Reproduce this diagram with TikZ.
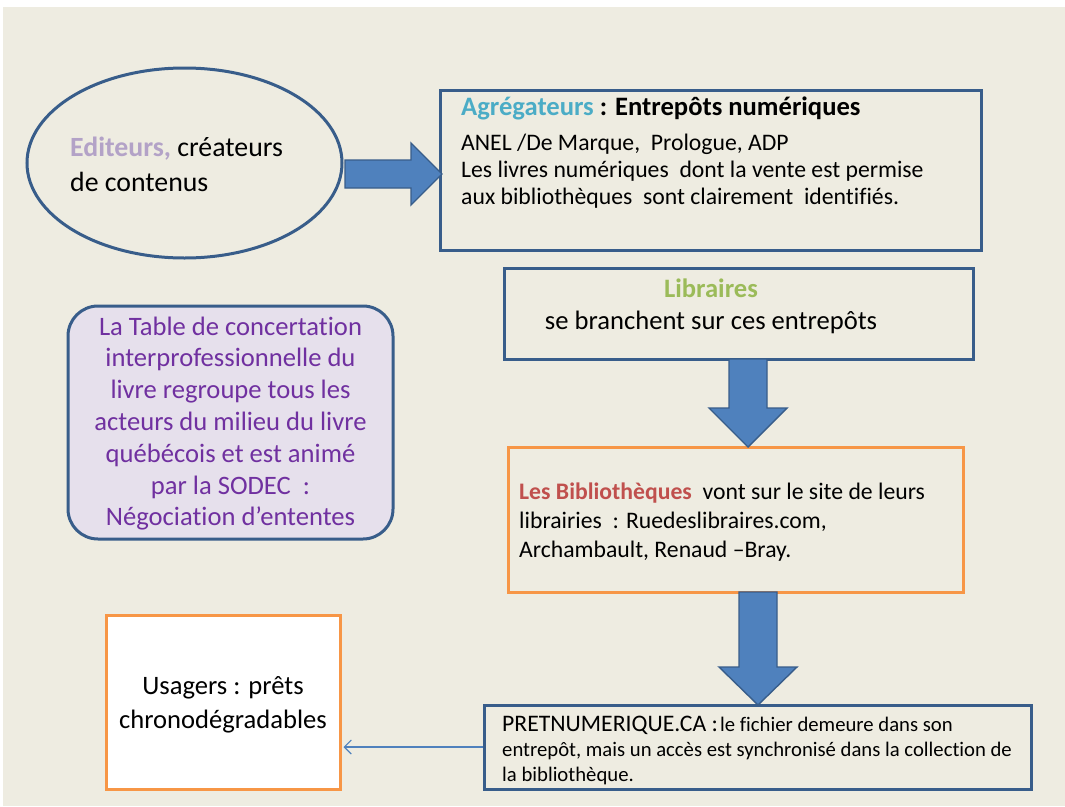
\documentclass[tikz,border=0pt]{standalone}
\usepackage{fontspec}
\setmainfont{Carlito}[Ligatures={NoCommon}]
\usetikzlibrary{arrows.meta,shapes.geometric}
\definecolor{bg}{HTML}{EEECE1}
\definecolor{dblue}{HTML}{385D8A}
\definecolor{ablue}{HTML}{4F81BD}
\definecolor{orng}{HTML}{F79646}
\definecolor{lav}{HTML}{E6E0EC}
\definecolor{purp}{HTML}{7030A0}
\definecolor{editc}{HTML}{B3A2C7}
\definecolor{aggc}{HTML}{4BACC6}
\definecolor{libc}{HTML}{9BBB59}
\definecolor{bibc}{HTML}{C0504D}
\newcommand\fA{\fontsize{26.6}{32}\selectfont}
\newcommand\fE{\fontsize{27.8}{33}\selectfont}
\newcommand\fB{\fontsize{23.7}{28}\selectfont}
\newcommand\fC{\fontsize{20.7}{25}\selectfont}
\tikzset{
  bbox/.style={draw=dblue, line width=3pt, rectangle, inner sep=0pt},
  obox/.style={draw=orng, line width=3pt, rectangle, inner sep=0pt},
  txt/.style={inner sep=0pt, anchor=base west},
  ctxt/.style={inner sep=0pt, anchor=base},
  barrow/.style={fill=ablue, draw=dblue, line width=1.4pt, line join=miter},
  thinarrow/.style={draw=ablue, line width=1.1pt, -{Straight Barb[length=7pt,width=14pt,line width=1.1pt]}, shorten >=2pt}
}
\begin{document}
\begin{tikzpicture}[x=1pt,y=-1pt]
\useasboundingbox (0,0) rectangle (1065,806);
\fill[white] (0,0) rectangle (1065,806);
\fill[bg] (3,7) rectangle (1065,806);

% Editeurs ellipse
\node[ellipse, draw=dblue, line width=3pt, minimum width=315pt, minimum height=190pt, inner sep=0pt] (ell) at (184.5,163) {};
\node[txt, font=\fE] (ell1) at (70,156) {{\color{editc}\bfseries Editeurs,} créateurs};
\node[txt, font=\fE] (ell2) at (70,191) {de contenus};

% Agregateurs box
\node[bbox, minimum width=541pt, minimum height=160pt] (agg) at (710.5,170) {};
\node[txt, font=\fA] (agg1) at (461,115) {\bfseries{\color{aggc}Agrégateurs} : Entrepôts numériques};
\node[txt, font=\fB] (agg2) at (461,150) {ANEL /De Marque,\ \ Prologue, ADP};
\node[txt, font=\fB] (agg3) at (461,177) {Les livres numériques\ \ dont la vente est permise};
\node[txt, font=\fB] (agg4) at (461,204) {aux bibliothèques\ \ sont clairement\ \ identifiés.};

% Libraires box
\node[bbox, minimum width=469pt, minimum height=91pt] (lib) at (738.5,313.5) {};
\node[ctxt, font=\fA] (lib1) at (711,297) {\bfseries\color{libc}Libraires};
\node[ctxt, font=\fA] (lib2) at (711,329) {se branchent sur ces entrepôts};

% Table box
\node[draw=dblue, fill=lav, line width=3pt, rounded corners=30pt, minimum width=325pt, minimum height=233pt, inner sep=0pt] (tab) at (230.5,422.5) {};
\foreach \t [count=\i] in {La Table de concertation, interprofessionnelle du, livre regroupe tous les, acteurs du milieu du livre, québécois et est animé, par la SODEC\ \ :, Négociation d’ententes}{
  \node[ctxt, font=\fA, text=purp] (tab\i) at (230.5,{335+31.8*(\i-1)}) {\t};
}

% Bibliotheques box
\node[obox, minimum width=455pt, minimum height=145pt] (bib) at (735.5,519.5) {};
\node[txt, font=\fB] (bib1) at (519,499) {{\bfseries\color{bibc}Les Bibliothèques}\ \ vont sur le site de leurs};
\node[txt, font=\fB] (bib2) at (519,528) {librairies\ \ : Ruedeslibraires.com,};
\node[txt, font=\fB] (bib3) at (519,557) {Archambault, Renaud –Bray.};

% Usagers box
\node[obox, fill=white, minimum width=234pt, minimum height=174pt] (usa) at (223,702) {};
\node[ctxt, font=\fA] (usa1) at (223,694) {Usagers : prêts};
\node[ctxt, font=\fA] (usa2) at (223,728) {chronodégradables};

% PRETNUMERIQUE box
\node[bbox, minimum width=547pt, minimum height=84pt] (pret) at (757.5,747) {};
\node[txt] (pret1) at (502,731) {{\fB PRETNUMERIQUE.CA :} {\fC le fichier demeure dans son}};
\node[txt, font=\fC] (pret2) at (502,756) {entrepôt, mais un accès est synchronisé dans la collection de};
\node[txt, font=\fC] (pret3) at (502,781) {la bibliothèque.};

% block arrows
\draw[barrow] (345,160) -- (411,160) -- (411,143) -- (442,174) -- (411,205) -- (411,188) -- (345,188) -- cycle;
\draw[barrow] (729,359) -- (767,359) -- (767,408) -- (787,408) -- (748,447) -- (709,408) -- (729,408) -- cycle;
\draw[barrow] (739,592) -- (777,592) -- (777,667) -- (797,667) -- (758,705) -- (719,667) -- (739,667) -- cycle;

% thin arrow
\draw[thinarrow] (pret.west) -- (pret.west -| usa.east);
\end{tikzpicture}
\end{document}
